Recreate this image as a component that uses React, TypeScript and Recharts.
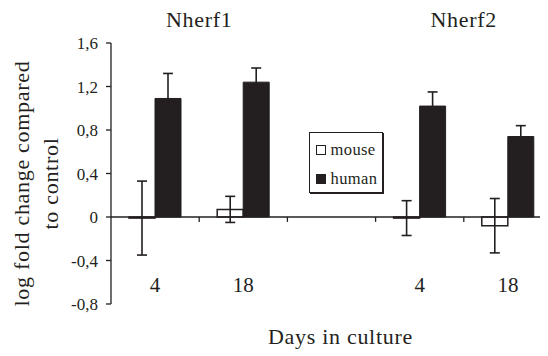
import {
  BarChart,
  Bar,
  ErrorBar,
  XAxis,
  YAxis,
  ReferenceLine,
  Legend,
} from 'recharts';

const INK = '#231f20';
const FONT = '"Liberation Serif", "Times New Roman", serif';

// five slots: Nherf1 day 4/18, empty gap, Nherf2 day 4/18
const categories = ['n1-4', 'n1-18', 'gap', 'n2-4', 'n2-18'];
const dayLabels = ['4', '18', '', '4', '18'];
const mouse = [-0.01, 0.07, null, -0.01, -0.08];
const mouseErr = [0.34, 0.12, null, 0.16, 0.25];
const human = [1.09, 1.24, null, 1.02, 0.74];
const humanErr = [0.23, 0.13, null, 0.13, 0.1];
const yTicks = [-0.8, -0.4, 0, 0.4, 0.8, 1.2, 1.6];
const genes = ['Nherf1', 'Nherf2'];
const geneTitleAt = ['n1-18', 'n2-18'];
const boundaries = ['n1-18', 'gap', 'n2-4', 'n2-18'];
const seriesNames = ['mouse', 'human'];

const data = categories.map((cat, i) => ({
  cat,
  mouse: mouse[i],
  mouseErr: mouseErr[i],
  human: human[i],
  humanErr: humanErr[i],
}));

const fmt = (v: number) => (v === 0 ? '0' : v.toFixed(1).replace('.', ','));

function YLabel(props: any) {
  const vb = props.viewBox;
  const cy = vb.y + vb.height / 2 + 10;
  const x1 = vb.x + 13;
  const x2 = vb.x + 42;
  const style = { fontFamily: FONT, fontSize: 22, letterSpacing: 0.7, fill: INK };
  return (
    <g>
      <text x={x1} y={cy} transform={`rotate(-90 ${x1} ${cy})`} textAnchor="middle" dominantBaseline="central" style={style}>
        log fold change compared
      </text>
      <text x={x2} y={cy} transform={`rotate(-90 ${x2} ${cy})`} textAnchor="middle" dominantBaseline="central" style={style}>
        to control
      </text>
    </g>
  );
}

function LegendBox() {
  return (
    <div
      style={{
        boxSizing: 'border-box',
        width: 74,
        height: 61,
        border: `1.5px solid ${INK}`,
        boxShadow: `1px 1px 0 ${INK}`,
        background: '#fff',
        paddingTop: 2,
        paddingLeft: 5.5,
        fontFamily: FONT,
        fontSize: 16.5,
        letterSpacing: 0.4,
        color: INK,
      }}
    >
      {seriesNames.map((name, i) => (
        <div key={name} style={{ display: 'flex', alignItems: 'center', height: 29 }}>
          <span
            style={{
              boxSizing: 'border-box',
              width: 10,
              height: 10,
              border: `1.3px solid ${INK}`,
              background: i === 0 ? '#fff' : INK,
              marginRight: 5,
            }}
          />
          <span>{name}</span>
        </div>
      ))}
    </div>
  );
}

export default function App() {
  return (
    <div style={{ width: 540, height: 348, overflow: 'hidden' }}>
      <BarChart
        width={552}
        height={348}
        data={data}
        margin={{ top: 35, right: 8, bottom: 52, left: 0 }}
        barCategoryGap={18}
        barGap={0}
      >
        <XAxis
          dataKey="cat"
          mirror
          interval={0}
          axisLine={false}
          tickLine={false}
          tickSize={0}
          tickMargin={12}
          tickFormatter={(_v: string, i: number) => dayLabels[i]}
          tick={{ fill: INK, fontSize: 21, fontFamily: FONT }}
        />
        <YAxis
          width={103}
          domain={[-0.8, 1.6]}
          ticks={yTicks}
          interval={0}
          tickFormatter={fmt}
          tickSize={5}
          tickMargin={8}
          stroke={INK}
          strokeWidth={1.3}
          tick={{ fill: INK, fontSize: 17, fontFamily: FONT }}
          label={YLabel}
        />
        <Bar dataKey="mouse" fill="#fff" stroke={INK} strokeWidth={1.5} isAnimationActive={false}>
          <ErrorBar dataKey="mouseErr" direction="y" width={5} stroke={INK} strokeWidth={1.6} />
        </Bar>
        <Bar dataKey="human" fill={INK} stroke={INK} strokeWidth={1} isAnimationActive={false}>
          <ErrorBar dataKey="humanErr" direction="y" width={5} stroke={INK} strokeWidth={1.6} />
        </Bar>
        <ReferenceLine y={0} stroke={INK} strokeWidth={1.3} />
        {boundaries.map(c => (
          <ReferenceLine
            key={c}
            segment={[{ x: c, y: 0 }, { x: c, y: -0.045 }]}
            position="start"
            stroke={INK}
            strokeWidth={1.3}
          />
        ))}
        {genes.map((g, i) => (
          <ReferenceLine
            key={g}
            x={geneTitleAt[i]}
            position="start"
            stroke="none"
            label={{
              value: g,
              position: 'top',
              offset: 16,
              fill: INK,
              fontSize: 22,
              fontFamily: FONT,
              letterSpacing: 0.7,
            }}
          />
        ))}
        <Legend
          layout="vertical"
          align="center"
          verticalAlign="middle"
          wrapperStyle={{ left: 301, top: 124, width: 'auto', height: 'auto' }}
          content={<LegendBox />}
        />
      </BarChart>
      <div
        style={{
          position: 'absolute',
          left: 268,
          top: 324,
          fontFamily: FONT,
          fontSize: 22,
          letterSpacing: 0.7,
          color: INK,
        }}
      >
        Days in culture
      </div>
    </div>
  );
}
